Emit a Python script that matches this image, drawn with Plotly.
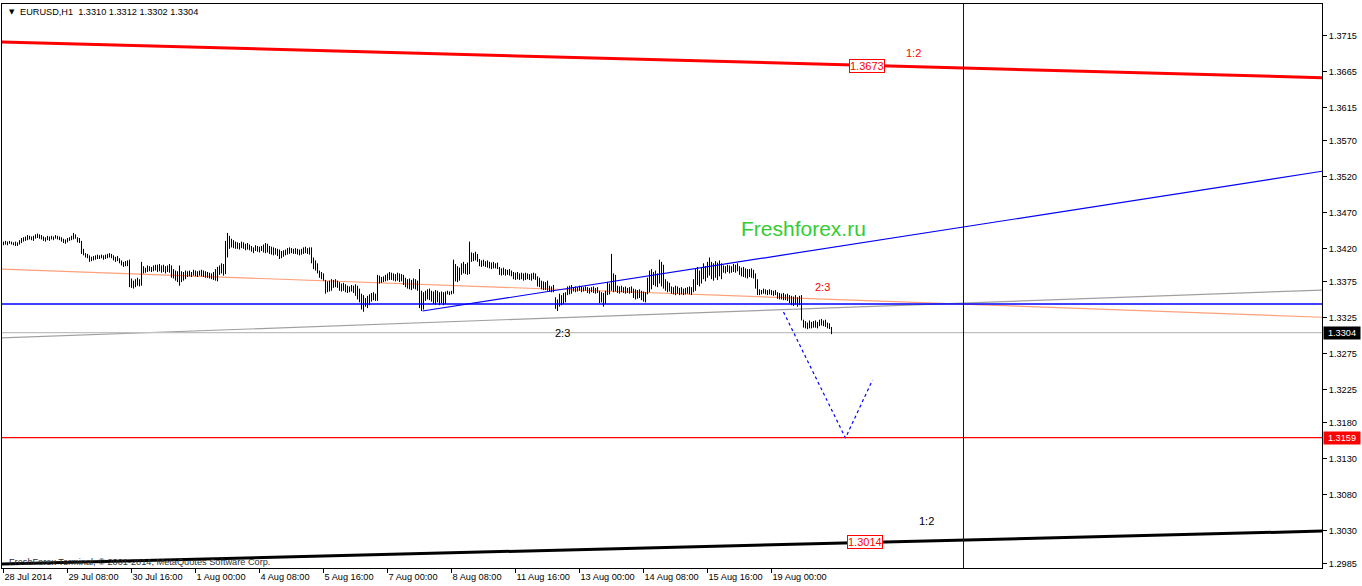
import plotly.graph_objects as go

# ---------------- data ----------------
SYMBOL_TEXT = "EURUSD,H1  1.3310 1.3312 1.3302 1.3304"
COPYRIGHT = "FreshForex Terminal, © 2001-2014, MetaQuotes Software Corp."
WATERMARK = "Freshforex.ru"

X_TICK_BARS = [0, 32, 64, 96, 128, 160, 192, 224, 256, 288, 320, 352, 384]
X_TICK_TEXT = ["28 Jul 2014", "29 Jul 08:00", "30 Jul 16:00", "1 Aug 00:00", "4 Aug 08:00",
               "5 Aug 16:00", "7 Aug 00:00", "8 Aug 08:00", "11 Aug 16:00", "13 Aug 00:00",
               "14 Aug 08:00", "15 Aug 16:00", "19 Aug 00:00"]

Y_TICK_VALUES = [1.3715, 1.3665, 1.3615, 1.3570, 1.3520, 1.3470, 1.3420, 1.3375,
                 1.3325, 1.3275, 1.3225, 1.3180, 1.3130, 1.3080, 1.3030, 1.2985]
Y_TICK_TEXT = ["%.4f" % v for v in Y_TICK_VALUES]

# hourly bars: price = 1.3 + pips/10000
PIP_BASE = 1.3
HIGH_PIPS = [
    430, 431, 430, 431, 430, 429, 430, 429, 432, 435,
    436, 437, 439, 438, 437, 438, 440, 441, 440, 439,
    437, 436, 438, 437, 438, 437, 439, 438, 437, 436,
    434, 433, 435, 436, 438, 442, 440, 436, 435, 431,
    420, 414, 413, 411, 409, 410, 411, 412, 411, 412,
    411, 412, 413, 414, 413, 411, 409, 410, 407, 404,
    402, 403, 404, 405, 379, 376, 378, 380, 378, 402,
    396, 394, 397, 396, 395, 397, 398, 398, 399, 397,
    398, 396, 397, 399, 397, 392, 390, 389, 397, 389,
    388, 390, 389, 390, 388, 391, 390, 389, 390, 391,
    390, 389, 388, 387, 386, 388, 392, 395, 397, 400,
    399, 431, 442, 438, 434, 432, 430, 429, 428, 430,
    429, 427, 428, 426, 424, 422, 425, 424, 423, 424,
    426, 428, 427, 424, 423, 422, 421, 420, 419, 417,
    418, 419, 421, 422, 421, 420, 421, 420, 419, 420,
    422, 423, 421, 422, 422, 408, 404, 400, 390, 388,
    386, 377, 375, 376, 378, 377, 378, 376, 374, 372,
    373, 371, 369, 368, 370, 369, 371, 369, 365, 358,
    356, 352, 355, 357, 359, 360, 358, 384, 383, 381,
    382, 384, 386, 388, 387, 386, 385, 387, 386, 385,
    384, 380, 378, 379, 377, 379, 378, 376, 392, 362,
    360, 362, 364, 365, 362, 361, 363, 362, 360, 361,
    360, 361, 362, 361, 362, 405, 399, 396, 394, 400,
    402, 399, 401, 430, 415, 414, 416, 413, 406, 404,
    405, 403, 404, 402, 401, 402, 400, 401, 395, 393,
    394, 392, 391, 392, 390, 388, 387, 388, 386, 387,
    386, 387, 386, 385, 386, 387, 386, 382, 380, 376,
    375, 374, 376, 369, 368, 370, 353, 350, 358, 356,
    359, 360, 368, 369, 370, 367, 368, 367, 369, 368,
    367, 368, 367, 366, 367, 368, 366, 367, 362, 360,
    359, 362, 374, 372, 413, 386, 384, 369, 368, 369,
    367, 368, 366, 367, 368, 365, 364, 363, 364, 362,
    361, 360, 380, 390, 392, 388, 390, 386, 405, 402,
    398, 378, 375, 373, 368, 367, 369, 368, 366, 367,
    365, 366, 367, 368, 367, 378, 392, 395, 390, 394,
    400, 396, 402, 408, 402, 400, 403, 401, 404, 400,
    397, 396, 398, 397, 396, 399, 398, 400, 396, 394,
    395, 393, 392, 392, 393, 391, 386, 378, 364, 363,
    365, 364, 363, 364, 363, 362, 363, 360, 359, 358,
    359, 357, 358, 356, 355, 354, 356, 353, 355, 356,
    322, 320, 318, 321, 319, 320, 321, 319, 322, 323,
    321, 322, 318, 317, 312,
]
LOW_PIPS = [
    425, 426, 425, 427, 426, 425, 424, 424, 426, 428,
    430, 431, 432, 433, 432, 431, 434, 435, 434, 433,
    431, 430, 432, 431, 433, 432, 434, 433, 432, 430,
    428, 427, 429, 431, 432, 433, 434, 429, 428, 413,
    411, 408, 407, 402, 403, 404, 405, 406, 406, 407,
    405, 406, 407, 408, 407, 404, 402, 403, 400, 397,
    395, 396, 396, 367, 366, 365, 367, 369, 368, 369,
    386, 387, 388, 389, 388, 389, 390, 388, 389, 387,
    388, 386, 388, 387, 380, 379, 376, 374, 369, 374,
    376, 378, 381, 382, 381, 383, 382, 381, 383, 382,
    381, 380, 380, 379, 378, 377, 376, 375, 384, 386,
    383, 385, 408, 420, 422, 421, 420, 420, 419, 421,
    420, 418, 419, 418, 416, 414, 417, 416, 415, 417,
    415, 414, 415, 413, 412, 411, 412, 410, 406, 407,
    409, 411, 412, 413, 414, 413, 413, 412, 411, 412,
    413, 414, 413, 412, 400, 392, 390, 386, 380, 378,
    376, 358, 360, 361, 362, 366, 367, 366, 362, 361,
    362, 360, 359, 360, 361, 359, 355, 350, 346, 336,
    333, 340, 338, 342, 347, 349, 348, 348, 372, 373,
    374, 375, 376, 377, 377, 376, 375, 376, 374, 375,
    370, 367, 365, 364, 363, 365, 364, 362, 338, 334,
    336, 348, 350, 349, 347, 344, 343, 346, 342, 345,
    342, 344, 357, 356, 357, 358, 375, 374, 376, 384,
    386, 385, 384, 385, 402, 403, 404, 402, 396, 395,
    396, 395, 394, 393, 392, 393, 393, 392, 384, 383,
    384, 383, 384, 383, 382, 378, 377, 378, 377, 378,
    376, 377, 378, 377, 376, 378, 377, 368, 367, 364,
    363, 363, 362, 361, 360, 360, 337, 334, 340, 342,
    344, 346, 356, 357, 358, 361, 360, 361, 362, 360,
    361, 362, 359, 358, 360, 359, 358, 359, 345, 346,
    340, 344, 356, 357, 362, 360, 361, 359, 358, 360,
    359, 358, 359, 358, 359, 352, 350, 351, 352, 349,
    347, 346, 357, 360, 364, 370, 368, 367, 372, 368,
    365, 362, 360, 361, 358, 357, 356, 358, 356, 357,
    356, 357, 358, 357, 356, 360, 362, 370, 368, 372,
    378, 375, 380, 383, 378, 376, 380, 377, 382, 378,
    387, 386, 388, 386, 387, 388, 387, 389, 384, 382,
    381, 380, 379, 381, 380, 379, 365, 356, 356, 357,
    358, 357, 356, 357, 356, 355, 356, 351, 350, 350,
    349, 349, 348, 345, 342, 341, 343, 340, 342, 321,
    311, 310, 309, 310, 310, 311, 311, 310, 313, 314,
    313, 312, 310, 309, 302,
]

# drawn objects (bar index, price)
RED_CHANNEL_X, RED_CHANNEL_Y = [-1, 660], [1.37062, 1.36566]
BLACK_CHANNEL_X, BLACK_CHANNEL_Y = [-1, 660], [1.29841, 1.30297]
BLUE_TREND_X, BLUE_TREND_Y = [209.5, 660], [1.33340, 1.35276]
SALMON_X, SALMON_Y = [-1, 660], [1.33921, 1.33253]
GRAY_X, GRAY_Y = [-1, 660], [1.32967, 1.33631]
PATH_X, PATH_Y = [390, 421, 434.5], [1.33326, 1.31584, 1.32386]
BLUE_LEVEL = 1.33437
LAST_PRICE = 1.3304
SUPPORT_LEVEL = 1.3159
VLINE_BAR = 480
LABEL_TOP = (431.5, 1.3673)
LABEL_BOTTOM = (430.5, 1.3014)
RATIO_LABELS = [("1:2", 455, 1.36909, "#ff0000"), ("1:2", 461.5, 1.30440, "#000000"),
                ("2:3", 409.4, 1.33676, "#ff0000"), ("2:3", 279.4, 1.33032, "#000000")]
WATERMARK_POS = (400, 1.34488)

X_RANGE = [-0.75, 659.25]
Y_RANGE = [1.29786, 1.37586]

FONT = "Liberation Sans, Arial, sans-serif"
SMALL = 9.2

# ---------------- figure ----------------
fig = go.Figure()


def add_line(x, y, color, width, dash="solid"):
    fig.add_trace(go.Scatter(x=x, y=y, mode="lines", hoverinfo="skip",
                             line=dict(color=color, width=width, dash=dash)))


add_line(RED_CHANNEL_X, RED_CHANNEL_Y, "#ff0000", 3)
add_line(BLACK_CHANNEL_X, BLACK_CHANNEL_Y, "#000000", 3)
add_line(SALMON_X, SALMON_Y, "#ffa07a", 1.2)
add_line(GRAY_X, GRAY_Y, "#a0a0a0", 1.2)
add_line([X_RANGE[0] - 1, X_RANGE[1] + 1], [LAST_PRICE, LAST_PRICE], "#c0c0c0", 1.2)
add_line([X_RANGE[0] - 1, X_RANGE[1] + 1], [BLUE_LEVEL, BLUE_LEVEL], "#0000ff", 1.3)
add_line([X_RANGE[0] - 1, X_RANGE[1] + 1], [SUPPORT_LEVEL, SUPPORT_LEVEL], "#ff0000", 1.2)
add_line(BLUE_TREND_X, BLUE_TREND_Y, "#0000ff", 1.2)
add_line(PATH_X, PATH_Y, "#0000ff", 1.2, "dot")
add_line([VLINE_BAR, VLINE_BAR], [Y_RANGE[0] - 1, Y_RANGE[1] + 1], "#0000cd", 1)

bx, by = [], []
for i, (h, l) in enumerate(zip(HIGH_PIPS, LOW_PIPS)):
    bx += [i, i, None]
    by += [PIP_BASE + l / 10000.0, PIP_BASE + h / 10000.0, None]
fig.add_trace(go.Scatter(x=bx, y=by, mode="lines", hoverinfo="skip",
                         line=dict(color="#000000", width=1)))

ann = []
for (lx, ly) in (LABEL_TOP, LABEL_BOTTOM):
    ann.append(dict(x=lx, y=ly, xref="x", yref="y", text="%.4f" % ly, showarrow=False,
                    font=dict(family=FONT, size=11, color="#ff0000"),
                    bgcolor="#ffffff", bordercolor="#ff0000", borderwidth=1, borderpad=0))
for txt, lx, ly, col in RATIO_LABELS:
    ann.append(dict(x=lx, y=ly, xref="x", yref="y", text=txt, showarrow=False,
                    font=dict(family=FONT, size=11, color=col)))
ann.append(dict(x=WATERMARK_POS[0], y=WATERMARK_POS[1], xref="x", yref="y", text=WATERMARK,
                showarrow=False, font=dict(family=FONT, size=21, color="#32cd32")))
for val, bg in ((LAST_PRICE, "#000000"), (SUPPORT_LEVEL, "#ff0000")):
    ann.append(dict(x=1.0008, y=val, xref="paper", yref="y", text="%.4f" % val,
                    showarrow=False, xanchor="left", yanchor="middle", width=36, height=12,
                    align="center", bgcolor=bg, borderpad=0,
                    font=dict(family=FONT, size=SMALL, color="#ffffff")))
ann.append(dict(x=0.0036, y=0.9867, xref="paper", yref="paper", text="▼", showarrow=False,
                xanchor="left", yanchor="middle", font=dict(family="DejaVu Sans", size=7, color="#000000")))
ann.append(dict(x=0.0124, y=0.9867, xref="paper", yref="paper", text=SYMBOL_TEXT, showarrow=False,
                xanchor="left", yanchor="middle", font=dict(family=FONT, size=SMALL, color="#000000")))
ann.append(dict(x=0.0036, y=0.0111, xref="paper", yref="paper", text=COPYRIGHT, showarrow=False,
                xanchor="left", yanchor="middle", font=dict(family=FONT, size=SMALL, color="#303030")))

fig.update_layout(
    width=1362, height=586,
    margin=dict(l=2, r=40, t=4, b=18, pad=0, autoexpand=False),
    paper_bgcolor="#ffffff", plot_bgcolor="#ffffff",
    showlegend=False,
    font=dict(family=FONT, size=SMALL, color="#000000"),
    annotations=ann,
    xaxis=dict(range=X_RANGE, tickmode="array", tickvals=X_TICK_BARS, ticktext=X_TICK_TEXT,
               ticks="outside", ticklen=4, tickcolor="#000000", ticklabelposition="outside right",
               tickangle=0, automargin=False,
               showgrid=False, zeroline=False, showline=True, linecolor="#000000", linewidth=1,
               mirror=True, tickfont=dict(family=FONT, size=SMALL, color="#000000")),
    yaxis=dict(range=Y_RANGE, side="right", tickmode="array", tickvals=Y_TICK_VALUES,
               ticktext=Y_TICK_TEXT, ticks="outside", ticklen=4, tickcolor="#000000",
               automargin=False,
               showgrid=False, zeroline=False, showline=True, linecolor="#000000", linewidth=1,
               mirror=True, tickfont=dict(family=FONT, size=SMALL, color="#000000")),
)

fig.write_html("out.html", config={"displayModeBar": False},
               post_script="document.body.style.margin='0';document.body.style.overflow='hidden';")
